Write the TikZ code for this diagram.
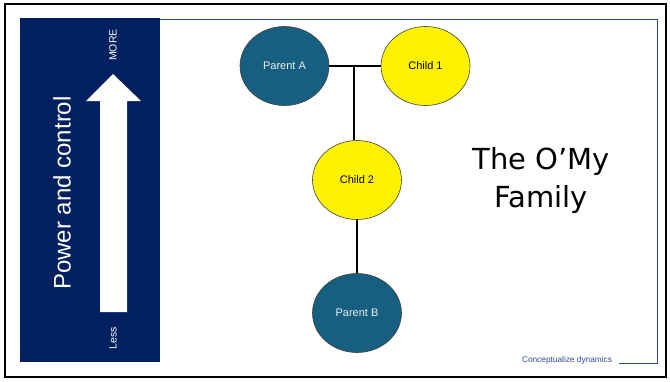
\documentclass[tikz,border=0pt]{standalone}
\usepackage{fontspec}
\setmainfont{Liberation Sans}
\newfontfamily\titlefont{DejaVu Sans}
\usetikzlibrary{shapes.geometric}
\definecolor{panelnavy}{HTML}{002060}
\definecolor{parentblue}{HTML}{175F80}
\definecolor{frameblue}{HTML}{2F4A92}

\begin{document}
\begin{tikzpicture}[x=1pt,y=-1pt,
		parent/.style={ellipse,draw=black!75,line width=0.6pt,fill=parentblue,text=white!90!parentblue,
			minimum width=89pt,minimum height=79pt,inner sep=0pt,font=\fontsize{11}{13}\selectfont},
		child/.style={parent,fill=yellow,text=black},
		tie/.style={line width=2.6pt,black}]
	\useasboundingbox (0,0) rectangle (670,381);
	\draw[line width=2pt] (5,3.5) rectangle (665.5,377);
	% left panel
	\fill[panelnavy] (20,18) rectangle (160,362);
	\fill[white] (100,312) -- (127,312) -- (127,101) -- (141,101) -- (113,74) -- (86,101) -- (100,101) -- cycle;
	\node[rotate=90,text=white,font=\fontsize{10.5}{12}\selectfont] (more) at (113,45) {MORE};
	\node[rotate=90,text=white,font=\fontsize{10.5}{12}\selectfont] (less) at (113,338) {Less};
	\node[rotate=90,text=white,font=\fontsize{24}{28}\selectfont] (power) at (62,193) {Power and control};
	% frame
	\draw[frameblue,line width=0.9pt] (160,19) -- (657,19) -- (657,363) -- (619,363);
	\node[text=frameblue,font=\fontsize{8.3}{10}\selectfont] (foot) at (567,360) {Conceptualize dynamics};

	\node[parent] (pa) at (284.5,66) {Parent A};
	\node[child] (c1) at (425.5,66) {Child 1};
	\node[child] (c2) at (357,180) {Child 2};
	\node[parent] (pb) at (357,313) {Parent B};
	\coordinate (knot) at (354,66);

	\draw[tie] (pa.east) -- (c1.west);
	\draw[tie] (knot) -- (knot |- c2.north);
	\draw[tie] (c2.south) -- (pb.north);
	%\draw[tie] (pa) -- (pb);

	\node[align=center,font=\titlefont\fontsize{29}{38}\selectfont] (title) at (541,180) {The O’My\\Family};
\end{tikzpicture}
\end{document}
